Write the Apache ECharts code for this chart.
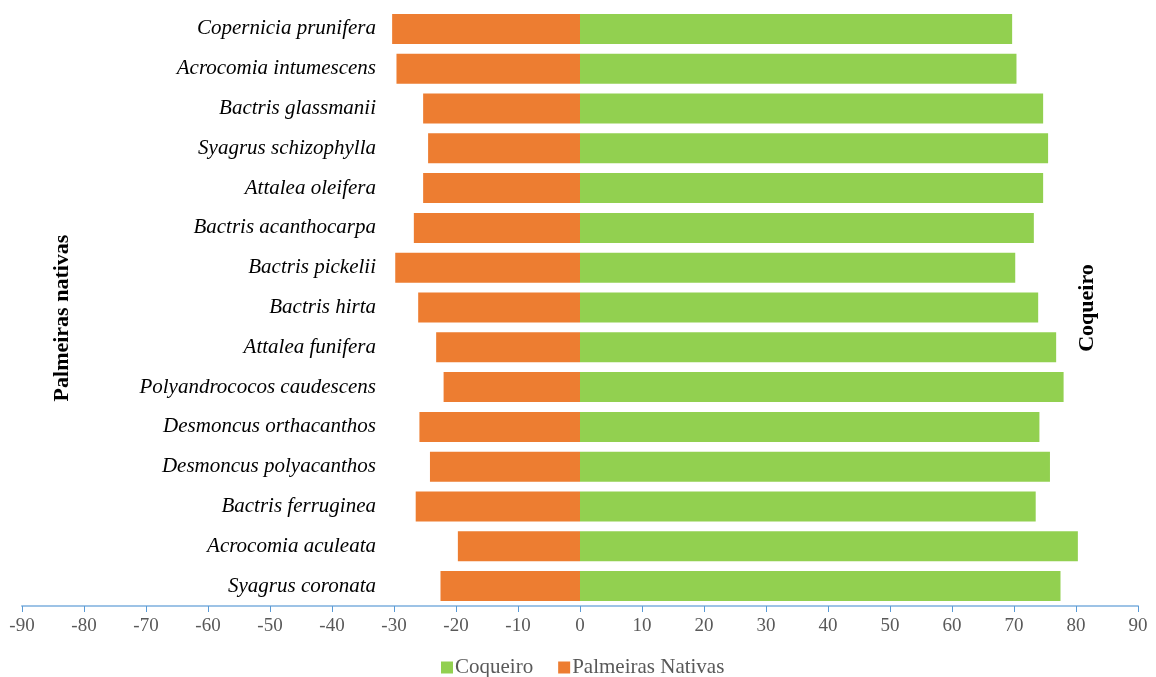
<!DOCTYPE html>
<html>
<head>
<meta charset="utf-8">
<script src="https://cdn.jsdelivr.net/npm/echarts@6/dist/echarts.min.js"></script>
<style>
  html, body { margin: 0; padding: 0; background: #ffffff; }
  #chart { width: 1156px; height: 677px; }
</style>
</head>
<body>
<div id="chart"></div>
<script>
// Species, listed top to bottom
const species = [
  'Copernicia prunifera',
  'Acrocomia intumescens',
  'Bactris glassmanii',
  'Syagrus schizophylla',
  'Attalea oleifera',
  'Bactris acanthocarpa',
  'Bactris pickelii',
  'Bactris hirta',
  'Attalea funifera',
  'Polyandrococos caudescens',
  'Desmoncus orthacanthos',
  'Desmoncus polyacanthos',
  'Bactris ferruginea',
  'Acrocomia aculeata',
  'Syagrus coronata'
];

// Share (%) toward the coconut palm
const coqueiro = [69.7, 70.4, 74.7, 75.5, 74.7, 73.2, 70.2, 73.9, 76.8, 78.0, 74.1, 75.8, 73.5, 80.3, 77.5];

// Share (%) toward the native palms, drawn to the left of zero
const palmeirasNativas = [-30.3, -29.6, -25.3, -24.5, -25.3, -26.8, -29.8, -26.1, -23.2, -22.0, -25.9, -24.2, -26.5, -19.7, -22.5];

const serif = '"Liberation Serif", "Times New Roman", serif';

const chart = echarts.init(document.getElementById('chart'), null, { renderer: 'canvas' });

chart.setOption({
  animation: false,
  backgroundColor: '#ffffff',
  color: ['#92D050', '#ED7D31'],
  textStyle: { fontFamily: serif },
  grid: { left: 22, right: 18, top: 9, bottom: 71, containLabel: false },
  legend: {
    bottom: -6,
    left: 436,
    itemWidth: 12,
    itemHeight: 12,
    itemGap: 25,
    icon: 'rect',
    textStyle: { fontFamily: serif, fontSize: 21, color: '#595959', padding: [0, 0, 0, -3] },
    data: ['Coqueiro', 'Palmeiras Nativas']
  },
  xAxis: {
    type: 'value',
    min: -90,
    max: 90,
    interval: 10,
    splitLine: { show: false },
    axisLine: { show: true, lineStyle: { color: '#9DC3E6', width: 2 } },
    axisTick: { show: true, length: 6, lineStyle: { color: '#5B9BD5', width: 1 } },
    axisLabel: { fontFamily: serif, fontSize: 19, color: '#595959', margin: 11 }
  },
  yAxis: {
    type: 'category',
    inverse: true,
    data: species,
    position: 'left',
    offset: -362,
    axisLine: { show: false, onZero: false },
    axisTick: { show: false },
    splitLine: { show: false },
    axisLabel: {
      fontFamily: serif,
      fontStyle: 'italic',
      fontSize: 21,
      color: '#000000',
      margin: 8,
      align: 'right'
    }
  },
  series: [
    {
      name: 'Coqueiro',
      type: 'bar',
      data: coqueiro,
      barWidth: 30,
      barGap: '-100%',
      itemStyle: { color: '#92D050' }
    },
    {
      name: 'Palmeiras Nativas',
      type: 'bar',
      data: palmeirasNativas,
      barWidth: 30,
      barGap: '-100%',
      itemStyle: { color: '#ED7D31' }
    }
  ],
  graphic: [
    {
      type: 'text',
      x: 62,
      y: 318,
      rotation: Math.PI / 2,
      style: {
        text: 'Palmeiras nativas',
        fontFamily: serif,
        fontWeight: 'bold',
        fontSize: 22,
        fill: '#000000',
        align: 'center',
        verticalAlign: 'middle'
      }
    },
    {
      type: 'text',
      x: 1087,
      y: 308,
      rotation: Math.PI / 2,
      style: {
        text: 'Coqueiro',
        fontFamily: serif,
        fontWeight: 'bold',
        fontSize: 22,
        fill: '#000000',
        align: 'center',
        verticalAlign: 'middle'
      }
    }
  ]
});
</script>
</body>
</html>
